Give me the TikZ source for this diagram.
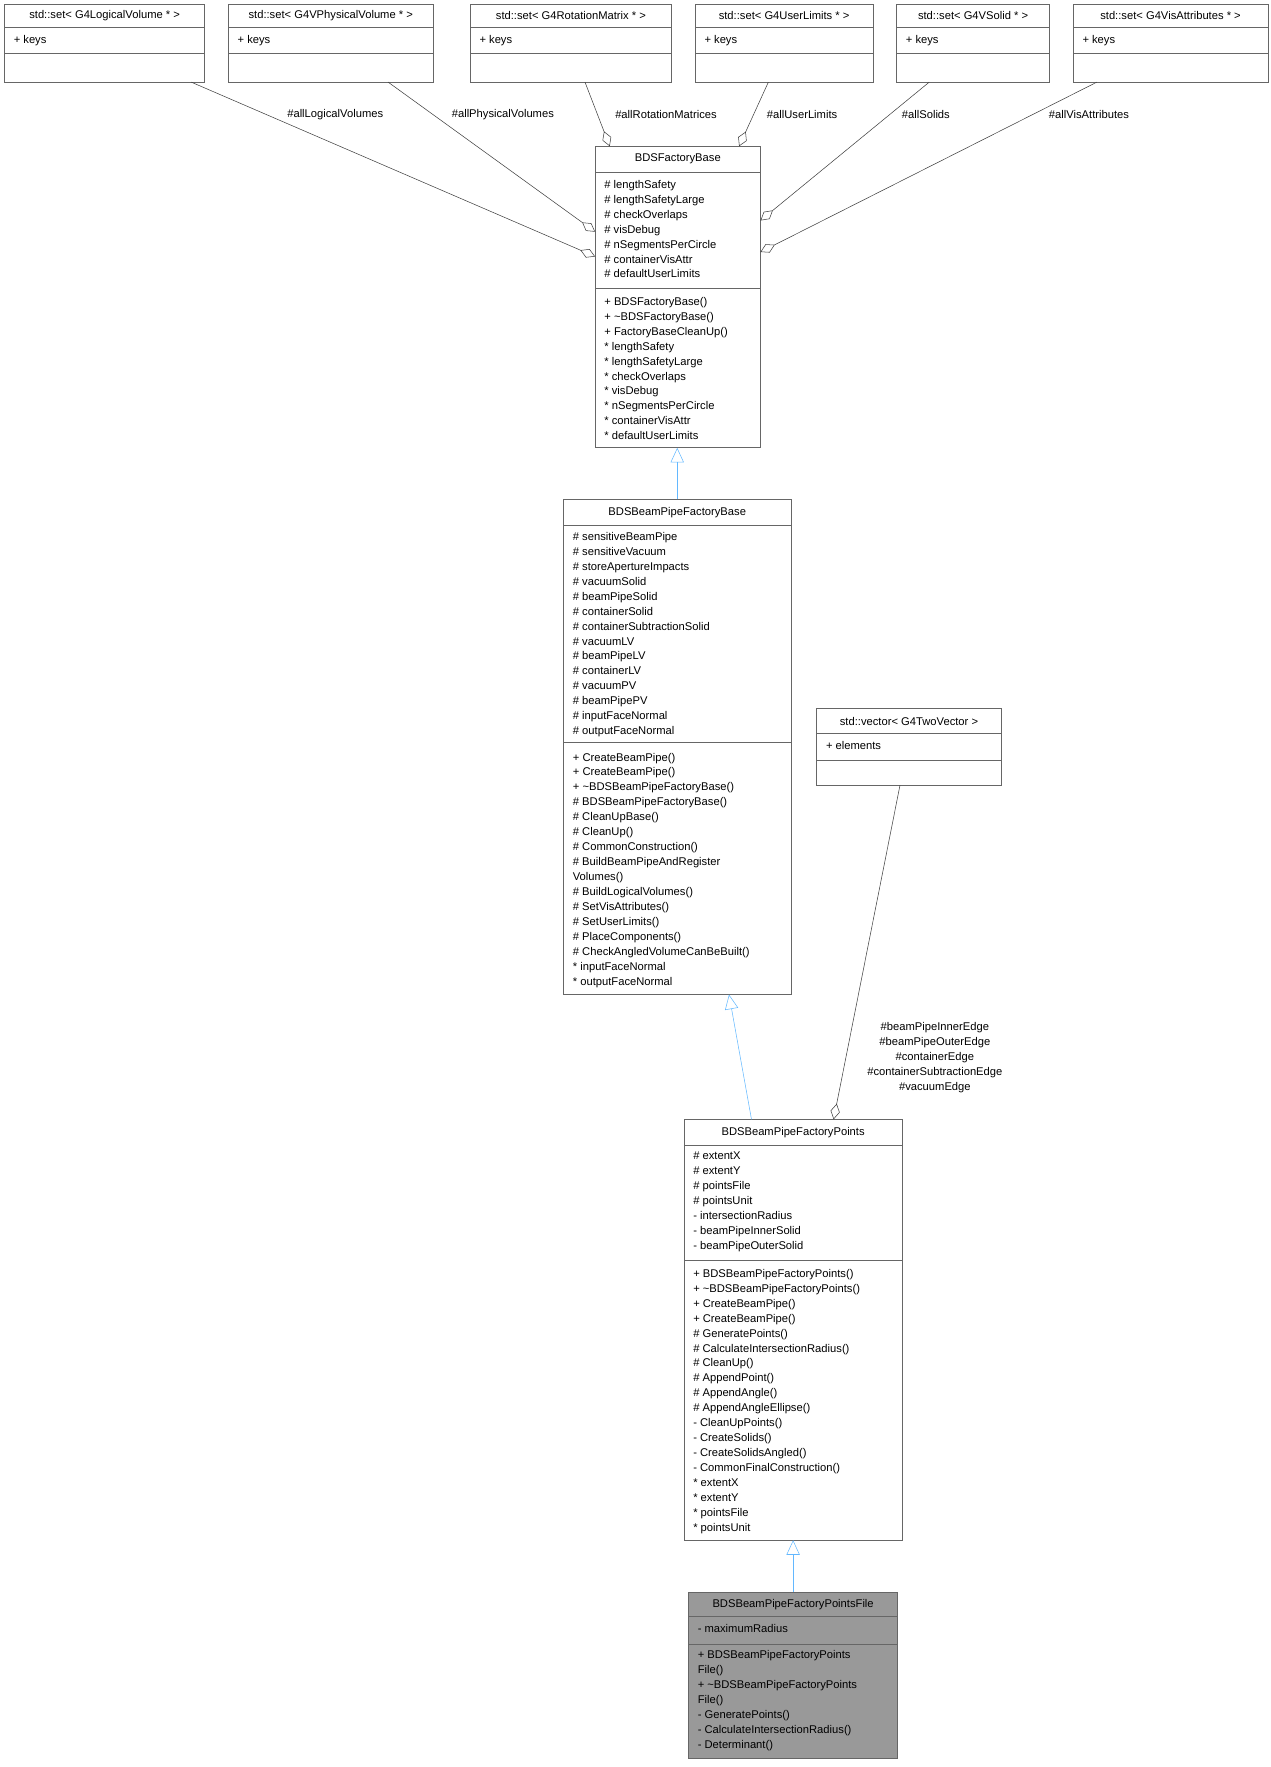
\documentclass[tikz,border=0pt]{standalone}
\usepackage{fontspec}
\setmainfont{Liberation Sans}
\usetikzlibrary{arrows.meta}
\definecolor{edgec}{HTML}{404040}
\definecolor{inhc}{HTML}{63B8FF}
\definecolor{boxc}{HTML}{666666}
\newcommand\lbl{\fontsize{8.4}{11.2}\selectfont}
\newcommand\umlbox[6]{%
 \pgfmathsetmacro\bw{(#4-#2)*0.84375}\pgfmathsetmacro\bh{(#5-#3)*0.84375}%
 \node[box,fill=#6,minimum width=\bw pt,minimum height=\bh pt] (#1) at (#2,#3) {};}
\newcommand\sepline[3]{\draw[boxc] (#1,#3) -- (#2,#3);}
\newcommand\txt[3]{\node[txt] at (#1,#2) {#3};}
\tikzset{
 box/.style={draw=boxc,anchor=north west,inner sep=0,outer sep=0},
 txt/.style={anchor=north west,inner sep=0,align=left,font=\lbl},
 ttl/.style={inner sep=0,font=\lbl},
 agg/.style={draw=edgec,-{Diamond[open,length=12,width=7]}},
 inh/.style={draw=inhc,-{Triangle[open,length=11,width=10]}},
 elab/.style={font=\lbl,inner sep=0,align=center},
}
\begin{document}
\begin{tikzpicture}[x=0.84375pt,y=-0.84375pt]
\useasboundingbox (0,0) rectangle (1129.8,1570.7);
% top row
\umlbox{lv}{4}{4}{182}{73}{white}
\umlbox{pv}{203}{4}{385}{73}{white}
\umlbox{rm}{418}{4}{597}{73}{white}
\umlbox{ul}{618}{4}{776}{73}{white}
\umlbox{so}{797}{4}{933}{73}{white}
\umlbox{va}{954}{4}{1127}{73}{white}
\foreach \a/\b/\t in {4/182/{std::set< G4LogicalVolume * >},203/385/{std::set< G4VPhysicalVolume * >},418/597/{std::set< G4RotationMatrix * >},618/776/{std::set< G4UserLimits * >},797/933/{std::set< G4VSolid * >},954/1127/{std::set< G4VisAttributes * >}}{
 \sepline{\a}{\b}{24}\sepline{\a}{\b}{47}
 \node[ttl] at ({(\a+\b)/2},14) {\t};
 \node[txt] at (\a+8,31) {+ keys};
}
% BDSFactoryBase
\umlbox{fb}{529}{130}{676}{398}{white}
\sepline{529}{676}{153}\sepline{529}{676}{256}
\node[ttl] at (602.5,141.5) {BDSFactoryBase};
\txt{537}{160}{\# lengthSafety\\\# lengthSafetyLarge\\\# checkOverlaps\\\# visDebug\\\# nSegmentsPerCircle\\\# containerVisAttr\\\# defaultUserLimits}
\txt{537}{264}{+ BDSFactoryBase()\\+ \textasciitilde BDSFactoryBase()\\+ FactoryBaseCleanUp()\\* lengthSafety\\* lengthSafetyLarge\\* checkOverlaps\\* visDebug\\* nSegmentsPerCircle\\* containerVisAttr\\* defaultUserLimits}
% BDSBeamPipeFactoryBase
\umlbox{bpf}{501}{444}{703}{884}{white}
\sepline{501}{703}{467}\sepline{501}{703}{660}
\node[ttl] at (602,455.5) {BDSBeamPipeFactoryBase};
\txt{509}{473}{\# sensitiveBeamPipe\\\# sensitiveVacuum\\\# storeApertureImpacts\\\# vacuumSolid\\\# beamPipeSolid\\\# containerSolid\\\# containerSubtractionSolid\\\# vacuumLV\\\# beamPipeLV\\\# containerLV\\\# vacuumPV\\\# beamPipePV\\\# inputFaceNormal\\\# outputFaceNormal}
\txt{509}{669}{+ CreateBeamPipe()\\+ CreateBeamPipe()\\+ \textasciitilde BDSBeamPipeFactoryBase()\\\# BDSBeamPipeFactoryBase()\\\# CleanUpBase()\\\# CleanUp()\\\# CommonConstruction()\\\# BuildBeamPipeAndRegister\\Volumes()\\\# BuildLogicalVolumes()\\\# SetVisAttributes()\\\# SetUserLimits()\\\# PlaceComponents()\\\# CheckAngledVolumeCanBeBuilt()\\* inputFaceNormal\\* outputFaceNormal}
% vector
\umlbox{vec}{726}{630}{890}{698}{white}
\sepline{726}{890}{652}\sepline{726}{890}{676}
\node[ttl] at (808,641) {std::vector< G4TwoVector >};
\txt{734}{659}{+ elements}
% Points
\umlbox{pts}{608}{995}{802}{1369}{white}
\sepline{608}{802}{1018}\sepline{608}{802}{1120}
\node[ttl] at (705,1006.5) {BDSBeamPipeFactoryPoints};
\txt{616}{1024}{\# extentX\\\# extentY\\\# pointsFile\\\# pointsUnit\\- intersectionRadius\\- beamPipeInnerSolid\\- beamPipeOuterSolid}
\txt{616}{1128}{+ BDSBeamPipeFactoryPoints()\\+ \textasciitilde BDSBeamPipeFactoryPoints()\\+ CreateBeamPipe()\\+ CreateBeamPipe()\\\# GeneratePoints()\\\# CalculateIntersectionRadius()\\\# CleanUp()\\\# AppendPoint()\\\# AppendAngle()\\\# AppendAngleEllipse()\\- CleanUpPoints()\\- CreateSolids()\\- CreateSolidsAngled()\\- CommonFinalConstruction()\\* extentX\\* extentY\\* pointsFile\\* pointsUnit}
% PointsFile
\umlbox{pf}{612}{1415}{798}{1563}{black!40}
\sepline{612}{798}{1437}\sepline{612}{798}{1462}
\node[ttl] at (705,1426) {BDSBeamPipeFactoryPointsFile};
\txt{620}{1444}{- maximumRadius}
\txt{620}{1467}{+ BDSBeamPipeFactoryPoints\\File()\\+ \textasciitilde BDSBeamPipeFactoryPoints\\File()\\- GeneratePoints()\\- CalculateIntersectionRadius()\\- Determinant()}
% aggregation edges
\draw[agg] (lv.south -| 170,0) -- (fb.west |- 0,228);
\draw[agg] (pv.south -| 345,0) -- (fb.west |- 0,206);
\draw[agg] (rm.south -| 520,0) -- (fb.north -| 542,0);
\draw[agg] (ul.south -| 683,0) -- (fb.north -| 657,0);
\draw[agg] (so.south -| 826,0) -- (fb.east |- 0,196);
\draw[agg] (va.south -| 975,0) -- (fb.east |- 0,224);
\node[elab] at (298,102) {\#allLogicalVolumes};
\node[elab] at (447,102) {\#allPhysicalVolumes};
\node[elab] at (592,102) {\#allRotationMatrices};
\node[elab] at (713,102) {\#allUserLimits};
\node[elab] at (823,102) {\#allSolids};
\node[elab] at (968,102) {\#allVisAttributes};
\draw[agg] (vec.south -| 800,0) -- (pts.north -| 741,0);
\node[elab,font=\fontsize{8.4}{11.2}\selectfont] at (831,940) {\#beamPipeInnerEdge\\\#beamPipeOuterEdge\\\#containerEdge\\\#containerSubtractionEdge\\\#vacuumEdge};
% inheritance
\draw[inh] (bpf.north -| 602,0) -- (fb.south -| 602,0);
\draw[inh] (pts.north -| 668,0) -- (bpf.south -| 648,0);
\draw[inh] (pf.north -| 705,0) -- (pts.south -| 705,0);
\end{tikzpicture}
\end{document}
